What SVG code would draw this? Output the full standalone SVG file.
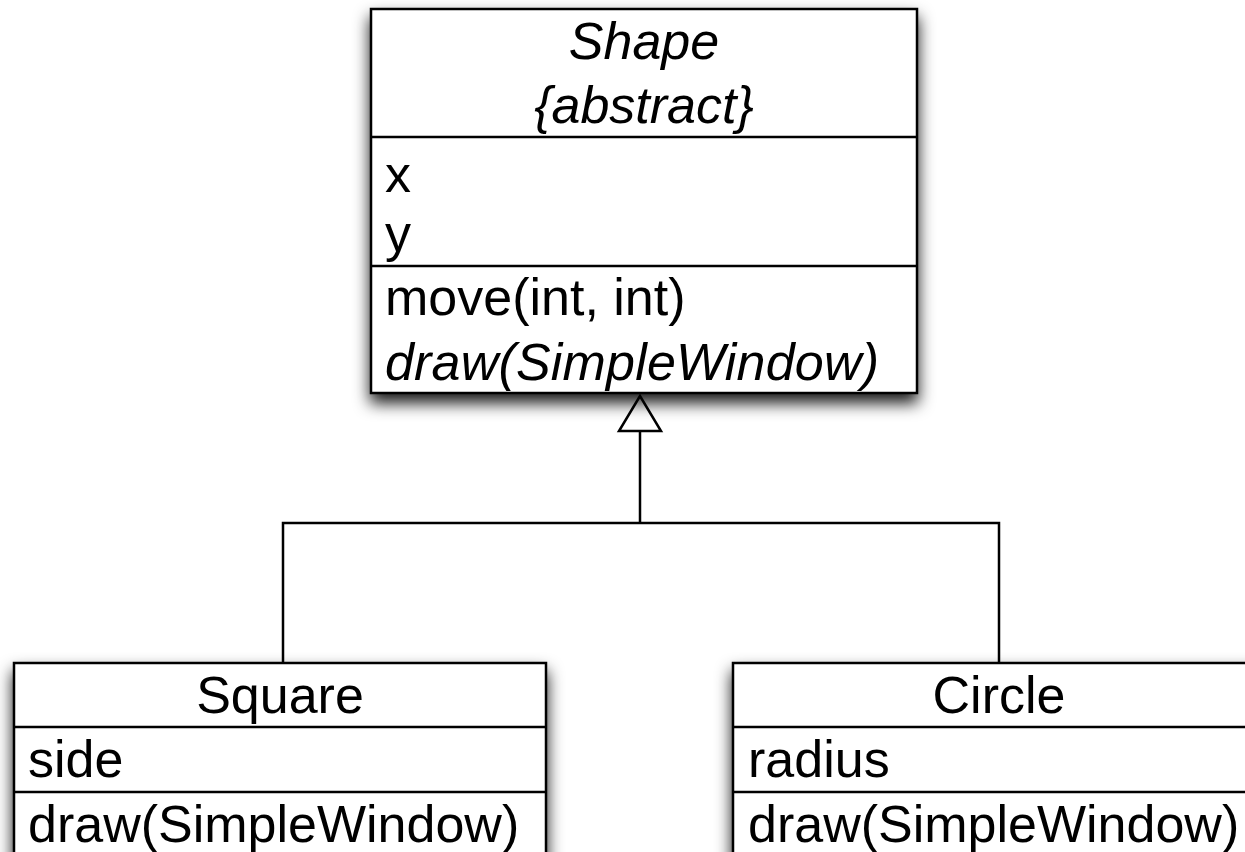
<svg xmlns="http://www.w3.org/2000/svg" width="1245" height="852" viewBox="0 0 1245 852">
<style>
.box{fill:#fff;stroke:#000;stroke-width:2.5}
.sep{stroke:#000;stroke-width:2.5}
.t{font-family:"Liberation Sans",Arial,Helvetica,sans-serif;font-size:52px;fill:#000}
.i{font-style:italic}
.c{text-anchor:middle}
.conn{fill:none;stroke:#000;stroke-width:2.5}
</style>
<defs>
<filter id="sh" x="-10%" y="-10%" width="120%" height="130%">
<feDropShadow dx="0" dy="9" stdDeviation="8" flood-color="#000" flood-opacity="0.9"/>
</filter>
</defs>
<rect width="1245" height="852" fill="#fff"/>
<g id="connectors">
<polyline class="conn" points="283,662 283,523 999,523 999,662"/>
<line class="conn" x1="640" y1="523" x2="640" y2="431"/>
<polygon class="conn" points="640,396 619,431 661,431" fill="#fff"/>
</g>
<g id="shape">
<rect class="box" x="371" y="9" width="546" height="384" filter="url(#sh)"/>
<line class="sep" x1="371" y1="137" x2="917" y2="137"/>
<line class="sep" x1="371" y1="266" x2="917" y2="266"/>
<text class="t i c" x="644" y="59">Shape</text>
<text class="t i c" x="644" y="123">{abstract}</text>
<text class="t" x="385" y="192">x</text>
<text class="t" x="385" y="251">y</text>
<text class="t" x="385" y="315">move(int, int)</text>
<text class="t i" x="385" y="380" textLength="494">draw(SimpleWindow)</text>
</g>
<g id="square">
<rect class="box" x="14" y="663" width="532" height="220" filter="url(#sh)"/>
<line class="sep" x1="14" y1="727" x2="546" y2="727"/>
<line class="sep" x1="14" y1="792" x2="546" y2="792"/>
<text class="t c" x="280" y="713">Square</text>
<text class="t" x="28" y="777">side</text>
<text class="t" x="28" y="842">draw(SimpleWindow)</text>
</g>
<g id="circle">
<rect class="box" x="733" y="663" width="532" height="220" filter="url(#sh)"/>
<line class="sep" x1="733" y1="727" x2="1265" y2="727"/>
<line class="sep" x1="733" y1="792" x2="1265" y2="792"/>
<text class="t c" x="999" y="713">Circle</text>
<text class="t" x="748" y="777">radius</text>
<text class="t" x="748" y="842">draw(SimpleWindow)</text>
</g>
</svg>
